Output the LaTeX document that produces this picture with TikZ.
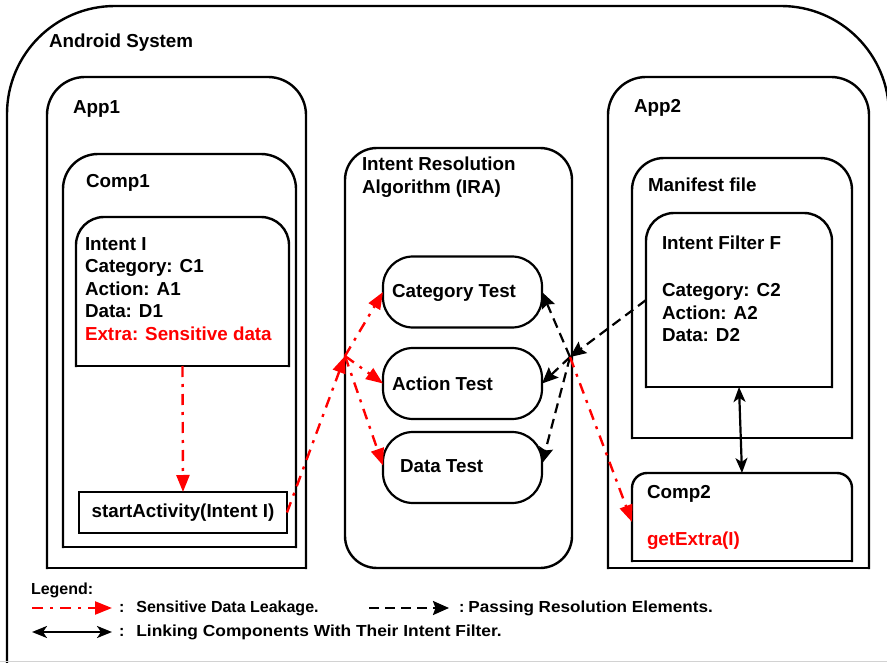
\documentclass[tikz,border=0pt]{standalone}
\usepackage{fontspec}
\setmainfont{Liberation Sans}
\usetikzlibrary{arrows.meta}

\tikzset{
  every node/.style={font=\fontsize{18.8}{22.5}\selectfont\bfseries, inner sep=0pt, outer sep=0pt},
  area/.style={draw=none},
  frameline/.style={line width=2.4pt, line cap=rect},
  lbl/.style={anchor=west},
  boxed/.style={draw, line width=2.4pt},
  test/.style={draw, line width=2.2pt, rounded corners=30pt, minimum width=159pt, minimum height=71pt},
  leak/.style={red, line width=2.4pt, dash pattern=on 11pt off 7pt on 3pt off 7pt,
    -{Triangle[length=17pt,width=13pt]}},
  pass/.style={black, line width=2.2pt, dash pattern=on 10pt off 6pt,
    -{Stealth[length=16pt,width=14pt,inset=2.5pt]}},
  link/.style={black, line width=2.2pt,
    {Stealth[length=15pt,width=12pt,inset=4pt]}-{Stealth[length=15pt,width=12pt,inset=4pt]}},
  legend/.style={anchor=west, font=\fontsize{16}{19}\selectfont\bfseries},
}

% outline of a node with rounded top corners and a square bottom
\newcommand\topframe[2]{%
  \draw[frameline, rounded corners=#2] (#1.south west) -- (#1.north west) -- (#1.north east) -- (#1.south east);
  \draw[frameline] (#1.south west) -- (#1.south east);}

\begin{document}
\begin{tikzpicture}[x=1pt,y=-1pt]
\useasboundingbox (0,0) rectangle (887,663);
\clip (0,0) rectangle (887,663);

% Android system frame
\node[area, minimum width=882pt, minimum height=694pt] (sys) at (448,353) {};
\topframe{sys}{108pt}
\draw[gray!35, line width=1pt] (0,661.5) -- (887,661.5);
\node[lbl] (tSys) at (49,43) {Android System};

% App1
\node[area, minimum width=259pt, minimum height=491pt] (app1) at (176.5,322.5) {};
\topframe{app1}{38pt}
\node[lbl] (tApp1) at (73,109) {App1};
\node[area, minimum width=233pt, minimum height=393pt] (comp1) at (179.5,350.5) {};
\topframe{comp1}{35pt}
\node[lbl] (tComp1) at (86,183) {Comp1};
\node[area, minimum width=213pt, minimum height=149pt] (intent) at (182.5,291.5) {};
\topframe{intent}{28pt}
\node[lbl, align=left] (tIntent) at (85,289)
  {Intent I\\Category: C1\\Action: A1\\Data: D1\\\textcolor{red}{Extra: Sensitive data}};
\node[boxed, minimum width=208pt, minimum height=41pt] (start) at (183,512.5) {startActivity(Intent I)};

% Intent resolution algorithm
\node[boxed, rounded corners=32pt, minimum width=227pt, minimum height=420pt] (ira) at (458.5,358) {};
\node[lbl, align=left] (tIra) at (362,177) {Intent Resolution\\Algorithm (IRA)};
\node[test] (cat) at (462.5,292) {};
\node[lbl] (tCat) at (392,293) {Category Test};
\node[test] (act) at (462.5,383.5) {};
\node[lbl] (tAct) at (392,384) {Action Test};
\node[test] (data) at (462.5,467.5) {};
\node[lbl] (tData) at (400,466) {Data Test};

% App2
\node[area, minimum width=261pt, minimum height=491pt] (app2) at (738.5,322.5) {};
\topframe{app2}{38pt}
\node[lbl] (tApp2) at (634,108) {App2};
\node[area, minimum width=220pt, minimum height=280pt] (manifest) at (742,298) {};
\topframe{manifest}{32pt}
\node[lbl] (tManifest) at (648,185) {Manifest file};
\node[area, minimum width=186pt, minimum height=174pt] (filter) at (739,300) {};
\topframe{filter}{28pt}
\node[lbl] (tFilter) at (662,243) {Intent Filter F};
\node[lbl, align=left] (tFilterBody) at (662,313) {Category: C2\\Action: A2\\Data: D2};
\node[area, minimum width=220pt, minimum height=88pt] (comp2) at (742,517) {};
\topframe{comp2}{15pt}
\node[lbl] (tComp2) at (647,494) {Comp2};
\node[lbl, text=red] (tGet) at (647,541) {getExtra(I)};

% resolution flow
\coordinate (jl) at (345,356);
\coordinate (jr) at (570,357);
\draw[pass] (filter.west) -- (jr);
\draw[pass] (jr) -- (cat.east);
\draw[pass] (jr) -- (act.east);
\draw[pass] (jr) -- ([yshift=4pt]data.east);
\draw[link] (filter.south) -- (comp2.north);

% sensitive data flow
\draw[leak] (intent.south) -- (start.north);
\draw[leak] (start.east) -- (jl);
\draw[leak] (jl) -- (cat.west);
\draw[leak] (jl) -- (act.west);
\draw[leak] (jl) -- ([yshift=2pt]data.west);
\draw[leak] (jr) -- ([yshift=-5pt]comp2.west);

% legend
\node[legend] (tLeg) at (31,590) {Legend:};
\coordinate (l1a) at (32,608);
\coordinate (l1b) at (112,608);
\draw[leak] (l1a) -- (l1b);
\node[legend] (tL1) at (119,608) {:\hspace{12pt}Sensitive Data Leakage.};
\coordinate (l2a) at (369,608);
\coordinate (l2b) at (449,608);
\draw[pass] (l2a) -- (l2b);
\node[legend] (tL2) at (459,608) {:\hspace{4pt}\scalebox{1.07}[1]{Passing Resolution Elements.}};
\coordinate (l3a) at (32,632);
\coordinate (l3b) at (112,632);
\draw[link] (l3a) -- (l3b);
\node[legend] (tL3) at (119,632) {:\hspace{12pt}\scalebox{1.085}[1]{Linking Components With Their Intent Filter.}};
\end{tikzpicture}
\end{document}
